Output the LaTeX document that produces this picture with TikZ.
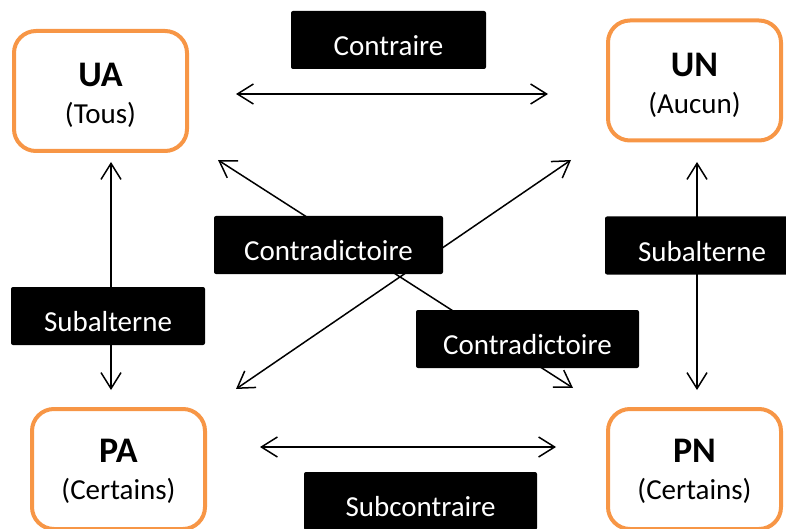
\documentclass[tikz,border=0pt]{standalone}
\usepackage{fontspec}
\setmainfont{Carlito}
\usepackage{xcolor}
\usepackage{tikz}
\usetikzlibrary{arrows.meta}
\definecolor{boxorange}{HTML}{F79646}
\newcommand{\quant}[3]{\rule{0pt}{#1}{\fontsize{18}{18}\selectfont\bfseries #2}\\(#3)}

\begin{document}
\begin{tikzpicture}[x=0.5pt,y=-0.5pt,
  prop/.style={draw=boxorange,line width=2pt,rounded corners=11pt,minimum width=86.5pt,minimum height=60pt,align=center,inner sep=0pt,font=\fontsize{14.5}{18.5}\selectfont},
  tag/.style={fill=black,text=white,rounded corners=1pt,inner sep=0pt,minimum height=29pt,text height=15.5pt,text depth=0pt,font=\fontsize{14.5}{17}\selectfont},
  rel/.style={line width=0.75pt,{Straight Barb[length=8pt,width=10pt]}-{Straight Barb[length=8pt,width=10pt]}}]
\useasboundingbox (0,0) rectangle (786,529);
\node[prop] (UA) at (100.5,91) {\quant{15.6pt}{UA}{Tous}};
\node[prop] (UN) at (694.5,80.5) {\quant{16.6pt}{UN}{Aucun}};
\node[prop] (PA) at (118.5,469) {\quant{13.6pt}{PA}{Certains}};
\node[prop] (PN) at (694.5,469) {\quant{13.6pt}{PN}{Certains}};
\coordinate (ctrL) at (236,94);
\coordinate (ctrR) at (548,94);
\coordinate (subL) at (260,447);
\coordinate (subR) at (556,447);
\coordinate (altUA) at (111,162);
\coordinate (altPA) at (111,390);
\coordinate (altUN) at (697,162);
\coordinate (altPN) at (697,390);
\coordinate (diaUA) at (218,160);
\coordinate (diaPN) at (573,388);
\coordinate (diaUN) at (571,160);
\coordinate (diaPA) at (236,389);
\draw[rel] (ctrL)--(ctrR);
\draw[rel] (subL)--(subR);
\draw[rel] (altUA)--(altPA);
\draw[rel] (altUN)--(altPN);
\draw[rel] (diaUA)--(diaPN);
\draw[rel] (diaUN)--(diaPA);
\node[tag,minimum width=97.5pt] (contraire) at (388.5,40) {Contraire};
\node[tag,minimum width=114.5pt] (contra1) at (328.5,245) {Contradictoire};
\node[tag,minimum width=111.5pt] (contra2) at (527.5,339) {Contradictoire};
\node[tag,minimum width=97pt] (subaltL) at (108,316) {Subalterne};
\node[tag,minimum width=97pt] (subaltR) at (702,245.5) {Subalterne};
\node[tag,minimum width=116.5pt] (subcontraire) at (420.5,501) {Subcontraire};
\end{tikzpicture}
\end{document}
